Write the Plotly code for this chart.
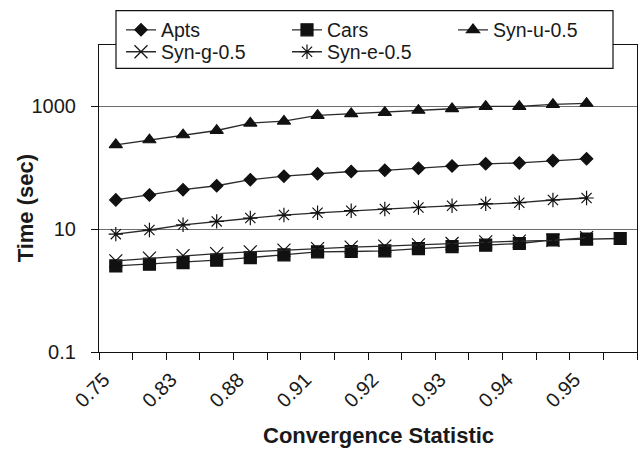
import plotly.graph_objects as go

# ---- data ----
x_ticklabels = ["0.75", "0.83", "0.88", "0.91", "0.92", "0.93", "0.94", "0.95"]
n_categories = 16

apts = [30, 36, 44, 51, 64, 73, 80, 87, 91, 98, 107, 116, 120, 131, 140]
cars = [2.52, 2.69, 2.86, 3.13, 3.45, 3.82, 4.27, 4.33, 4.44, 4.84, 5.2, 5.5, 5.85, 6.7, 6.9, 7.05]
syn_u = [237, 285, 344, 405, 533, 575, 713, 759, 798, 861, 916, 1000, 1000, 1078, 1120]
syn_g = [3.05, 3.37, 3.72, 4.0, 4.27, 4.55, 4.84, 5.1, 5.3, 5.56, 5.85, 6.2, 6.4, 6.6, 7.3]
syn_e = [8.3, 9.7, 11.8, 13.4, 15.2, 17.0, 18.5, 20, 21.3, 22.6, 24.1, 26, 27, 29.9, 32.2]

y_tickvals = [0.1, 10, 1000]
y_ticktext = ["0.1", "10", "1000"]

series = [
    ("Apts", apts, "diamond", 9.5, "legend"),
    ("Cars", cars, "square", 12, "legend"),
    ("Syn-u-0.5", syn_u, "triangle-up", 11.5, "legend"),
    ("Syn-g-0.5", syn_g, "x-thin-open", 13, "legend2"),
    ("Syn-e-0.5", syn_e, "asterisk-open", 12, "legend2"),
]

FONT = "Liberation Sans, Arial, sans-serif"
TXT = "#1a1a1a"

fig = go.Figure()
for name, vals, sym, size, leg in series:
    fig.add_trace(go.Scatter(
        x=list(range(len(vals))), y=vals, name=name, mode="lines+markers",
        legend=leg,
        line=dict(color="#2a2a2a", width=1.3),
        marker=dict(symbol=sym, size=size, color="#111111",
                    line=dict(color="#111111", width=1.2)),
    ))

# dummy trace so the boundary-tick axis is rendered
fig.add_trace(go.Scatter(x=[], y=[], xaxis="x2", showlegend=False, hoverinfo="skip"))

label_pos = [2 * i for i in range(len(x_ticklabels))]
boundary_ticks = [i - 0.5 for i in range(n_categories + 1)]

legend_common = dict(
    orientation="h", xanchor="left", yanchor="top",
    bgcolor="rgba(0,0,0,0)", borderwidth=0,
    font=dict(family=FONT, size=19.5, color=TXT),
    entrywidth=121, entrywidthmode="pixels", traceorder="normal",
)

fig.update_layout(
    width=640, height=449,
    margin=dict(l=99, r=3, t=44.5, b=97),
    paper_bgcolor="white", plot_bgcolor="white",
    font=dict(family=FONT, size=19.5, color=TXT),
    showlegend=True,
    legend=dict(x=0.0409, y=1.112, **legend_common),
    legend2=dict(x=0.0409, y=1.0405, **legend_common),
    shapes=[dict(type="rect", xref="paper", yref="paper",
                 x0=0.0316, x1=0.9554, y0=0.9236, y1=1.1122,
                 fillcolor="white", line=dict(color="#111111", width=1.2),
                 layer="above")],
    xaxis=dict(
        range=[-0.5, n_categories - 0.5], tickmode="array",
        tickvals=label_pos, ticktext=x_ticklabels, tickangle=-45,
        ticks="", showgrid=False, zeroline=False,
        showline=True, linecolor="#111111", linewidth=1.2, mirror=True,
        tickfont=dict(family=FONT, size=20, color=TXT),
        ticklabelshift=-12, ticklabelstandoff=7,
    ),
    xaxis2=dict(
        overlaying="x", matches="x", range=[-0.5, n_categories - 0.5],
        tickmode="array", tickvals=boundary_ticks, showticklabels=False,
        ticks="outside", ticklen=7, tickwidth=1.2, tickcolor="#111111",
        showgrid=False, zeroline=False, showline=False, side="bottom", anchor="y",
    ),
    yaxis=dict(
        type="log", range=[-1, 4], tickmode="array",
        tickvals=y_tickvals, ticktext=y_ticktext,
        ticks="outside", ticklen=7, tickwidth=1.2, tickcolor="#111111",
        showgrid=True, gridcolor="#6e6e6e", gridwidth=1.3, zeroline=False,
        showline=True, linecolor="#111111", linewidth=1.2, mirror=True,
        tickfont=dict(family=FONT, size=20, color=TXT),
        ticklabelstandoff=11,
    ),
    annotations=[
        dict(text="<b>Convergence Statistic</b>", xref="paper", yref="paper",
             x=0.5186, y=-0.273, xanchor="center", yanchor="middle",
             showarrow=False, font=dict(family=FONT, size=22, color=TXT)),
        dict(text="<b>Time (sec)</b>", xref="paper", yref="paper",
             x=-0.1375, y=0.468, xanchor="center", yanchor="middle", textangle=-90,
             showarrow=False, font=dict(family=FONT, size=22, color=TXT)),
    ],
)

fig.write_html("out.html")
